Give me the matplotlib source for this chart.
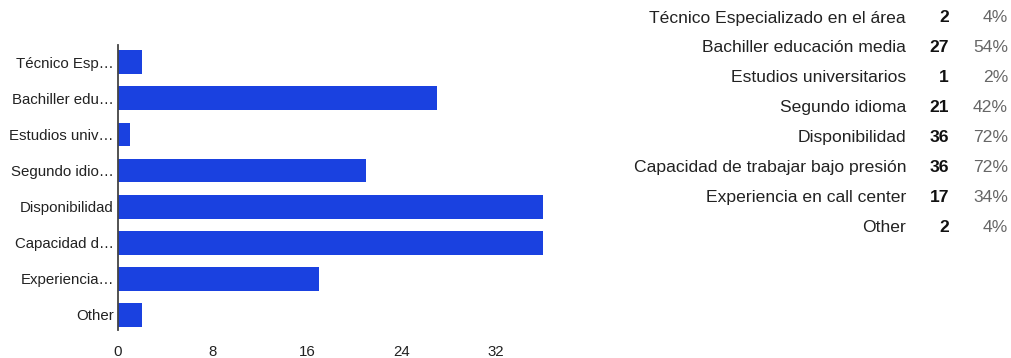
import matplotlib.pyplot as plt

plt.rcParams['font.family'] = ['Liberation Sans', 'DejaVu Sans']

# data
full_labels = ['Técnico Especializado en el área', 'Bachiller educación media',
               'Estudios universitarios', 'Segundo idioma', 'Disponibilidad',
               'Capacidad de trabajar bajo presión', 'Experiencia en call center', 'Other']
short_labels = ['Técnico Esp…', 'Bachiller edu…', 'Estudios univ…', 'Segundo idio…',
                'Disponibilidad', 'Capacidad d…', 'Experiencia…', 'Other']
counts = [2, 27, 1, 21, 36, 36, 17, 2]
percents = ['4%', '54%', '2%', '42%', '72%', '72%', '34%', '4%']
x_ticks = [0, 8, 16, 24, 32]

W, H = 1011, 358
fig = plt.figure(figsize=(W / 100, H / 100), dpi=100)
ax = fig.add_axes([118 / W, 1 - 330 / H, (543 - 118) / W * 37 / 36, (330 - 45) / H])

pos = list(range(len(counts)))
ax.barh(pos, counts, height=0.66, color='#1a41e0')
ax.set_ylim(7.42, -0.48)
ax.set_xlim(0, 37)
ax.set_yticks(pos)
ax.set_yticklabels(short_labels, fontsize=10.8, color='#222222')
ax.set_xticks(x_ticks)
ax.tick_params(axis='x', length=0, labelsize=10.8, labelcolor='#222222', pad=11)
ax.tick_params(axis='y', length=0, pad=3)
for s in ['top', 'right', 'bottom']:
    ax.spines[s].set_visible(False)
ax.spines['left'].set_color('#444444')
ax.spines['left'].set_linewidth(1.3)

# summary table on the right
row0, step = 18, 29.9
for i, (lab, c, p) in enumerate(zip(full_labels, counts, percents)):
    y = 1 - (row0 + i * step) / H
    fig.text(906 / W, y, lab, ha='right', va='center', fontsize=12.6, color='#222222')
    fig.text(949 / W, y, str(c), ha='right', va='center', fontsize=12.6,
             fontweight='bold', color='#111111')
    fig.text(1008 / W, y, p, ha='right', va='center', fontsize=12.6, color='#666666')

fig.savefig('out.png', dpi=100)
